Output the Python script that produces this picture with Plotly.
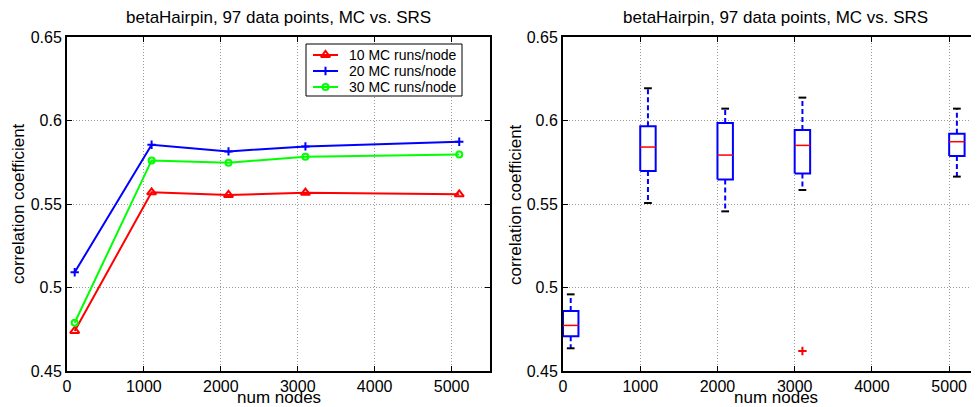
import plotly.graph_objects as go

# ---------------- data ----------------
num_nodes = [100, 1100, 2100, 3100, 5100]
mc10 = [0.4740, 0.5570, 0.5554, 0.5568, 0.5558]
mc20 = [0.5091, 0.5855, 0.5815, 0.5845, 0.5873]
mc30 = [0.4789, 0.5761, 0.5747, 0.5783, 0.5797]
series_names = ["10 MC runs/node", "20 MC runs/node", "30 MC runs/node"]

box_x = [100, 1100, 2100, 3100, 5100]
box_lower_whisker = [0.4636, 0.5506, 0.5456, 0.5584, 0.5664]
box_q1 = [0.4708, 0.5698, 0.5646, 0.5682, 0.5787]
box_median = [0.4773, 0.5841, 0.5793, 0.5851, 0.5873]
box_q3 = [0.4859, 0.5965, 0.5985, 0.5943, 0.5921]
box_upper_whisker = [0.4959, 0.6193, 0.6071, 0.6137, 0.6071]
outlier_x = [3100]
outlier_y = [0.4620]

title_text = "betaHairpin, 97 data points, MC vs. SRS"
xlabel = "num nodes"
ylabel = "correlation coefficient"
y_tickvals = [0.45, 0.5, 0.55, 0.6, 0.65]
y_ticktext = ["0.45", "0.5", "0.55", "0.6", "0.65"]
x_tickvals = [0, 1000, 2000, 3000, 4000, 5000]
x_ticktext = ["0", "1000", "2000", "3000", "4000", "5000"]

# ---------------- style / geometry (viewport pixels) ----------------
W, H = 979, 407
OFF = 8  # page body margin
FONT = "Liberation Sans, Arial, Helvetica, sans-serif"
BOX_HALF = 100
CAP_HALF = 50

def fx(v):
    return (v - OFF) / W

def fy(v):
    return (H - (v - OFF)) / H

series_style = [
    ("#ff0000", "triangle-up-open", 8),
    ("#0000ff", "cross-thin-open", 6),
    ("#00ff00", "circle-open", 6),
]

fig = go.Figure()

# left plot lines
for ys, name, (color, sym, size) in zip([mc10, mc20, mc30], series_names, series_style):
    fig.add_trace(go.Scatter(
        x=num_nodes, y=ys, name=name, mode="lines+markers",
        line=dict(color=color, width=2),
        marker=dict(symbol=sym, size=size, color=color, line=dict(color=color, width=2)),
        xaxis="x", yaxis="y", showlegend=False,
    ))

# right plot boxplots built from the summary arrays
wx, wy, bx, by, cx, cy, mx, my = [], [], [], [], [], [], [], []
for x, lo, q1, med, q3, hi in zip(box_x, box_lower_whisker, box_q1, box_median, box_q3, box_upper_whisker):
    wx += [x, x, None, x, x, None]
    wy += [q3, hi, None, q1, lo, None]
    bx += [x - BOX_HALF, x + BOX_HALF, x + BOX_HALF, x - BOX_HALF, x - BOX_HALF, None]
    by += [q1, q1, q3, q3, q1, None]
    cx += [x - CAP_HALF, x + CAP_HALF, None, x - CAP_HALF, x + CAP_HALF, None]
    cy += [hi, hi, None, lo, lo, None]
    mx += [x - BOX_HALF, x + BOX_HALF, None]
    my += [med, med, None]

fig.add_trace(go.Scatter(x=wx, y=wy, mode="lines", line=dict(color="#0000ff", width=2, dash="5px,3px"),
                         showlegend=False, xaxis="x2", yaxis="y2", hoverinfo="skip"))
fig.add_trace(go.Scatter(x=bx, y=by, mode="lines", line=dict(color="#0000ff", width=2),
                         showlegend=False, xaxis="x2", yaxis="y2", hoverinfo="skip"))
fig.add_trace(go.Scatter(x=cx, y=cy, mode="lines", line=dict(color="#000000", width=2),
                         showlegend=False, xaxis="x2", yaxis="y2", hoverinfo="skip"))
fig.add_trace(go.Scatter(x=mx, y=my, mode="lines", line=dict(color="#ff0000", width=1.5),
                         showlegend=False, xaxis="x2", yaxis="y2", hoverinfo="skip"))
fig.add_trace(go.Scatter(x=outlier_x, y=outlier_y, mode="markers",
                         marker=dict(symbol="cross-thin-open", size=6, color="#ff0000",
                                     line=dict(color="#ff0000", width=2)),
                         showlegend=False, xaxis="x2", yaxis="y2"))

# ---------------- MATLAB-style legend box (overlay subplot in pixel units) ----------------
LEG_L, LEG_R, LEG_T, LEG_B = 306, 462, 44, 96
LEG_ROWS = [55, 71, 87]
LEG_LINE = (313, 338)
LEG_TEXT_X = 347

fig.add_trace(go.Scatter(
    x=[LEG_L, LEG_R, LEG_R, LEG_L, LEG_L], y=[LEG_T, LEG_T, LEG_B, LEG_B, LEG_T],
    mode="lines", fill="toself", fillcolor="white", line=dict(color="black", width=1),
    xaxis="x3", yaxis="y3", showlegend=False, hoverinfo="skip"))
annotations = []
for row_y, name, (color, sym, size) in zip(LEG_ROWS, series_names, series_style):
    fig.add_trace(go.Scatter(
        x=[LEG_LINE[0], LEG_LINE[1]], y=[row_y, row_y], mode="lines",
        line=dict(color=color, width=2), xaxis="x3", yaxis="y3", showlegend=False, hoverinfo="skip"))
    fig.add_trace(go.Scatter(
        x=[(LEG_LINE[0] + LEG_LINE[1]) / 2], y=[row_y], mode="markers",
        marker=dict(symbol=sym, size=size, color=color, line=dict(color=color, width=2)),
        xaxis="x3", yaxis="y3", showlegend=False, hoverinfo="skip"))
    annotations.append(dict(text=name, x=LEG_TEXT_X, y=row_y, xref="x3", yref="y3",
                            showarrow=False, xanchor="left", yanchor="middle",
                            font=dict(family=FONT, size=14, color="black")))

# ---------------- layout ----------------
def axis_common():
    return dict(
        showline=True, linecolor="black", linewidth=2,
        ticks="inside", ticklen=5, tickwidth=1, tickcolor="black",
        showgrid=True, gridcolor="#9a9a9a", griddash="1px,2px", gridwidth=1,
        zeroline=False, automargin=False,
        tickfont=dict(family=FONT, size=16, color="black"),
    )

ydom = [fy(371), fy(37)]
left_dom = [fx(67), fx(490)]
right_dom = [fx(563), 1.0]

xa = axis_common(); xa.update(domain=left_dom, range=[0, 5500], tickvals=x_tickvals, ticktext=x_ticktext,
                             mirror="allticks", anchor="y")
ya = axis_common(); ya.update(domain=ydom, range=[0.45, 0.65], tickvals=y_tickvals, ticktext=y_ticktext,
                             mirror="allticks", anchor="x")
xa2 = axis_common(); xa2.update(domain=right_dom, range=[0, 5490], tickvals=x_tickvals, ticktext=x_ticktext,
                               mirror="allticks", anchor="y2")
ya2 = axis_common(); ya2.update(domain=ydom, range=[0.45, 0.65], tickvals=y_tickvals, ticktext=y_ticktext,
                               mirror=False, anchor="x2")
xa3 = dict(domain=[0, 1], range=[OFF, OFF + W], visible=False, fixedrange=True, anchor="y3")
ya3 = dict(domain=[0, 1], range=[OFF + H, OFF], visible=False, fixedrange=True, anchor="x3")

for cx_px in [278.5, 775.5]:
    annotations.append(dict(text=title_text, x=fx(cx_px), y=fy(17), xref="paper", yref="paper",
                            showarrow=False, xanchor="center", yanchor="middle",
                            font=dict(family=FONT, size=17, color="black")))
    annotations.append(dict(text=xlabel, x=fx(cx_px), y=fy(397.5), xref="paper", yref="paper",
                            showarrow=False, xanchor="center", yanchor="middle",
                            font=dict(family=FONT, size=17, color="black")))
for lx in [18, 515]:
    annotations.append(dict(text=ylabel, x=fx(lx), y=fy(204), xref="paper", yref="paper",
                            showarrow=False, xanchor="center", yanchor="middle", textangle=-90,
                            font=dict(family=FONT, size=17, color="black")))

fig.update_layout(
    template="none",
    width=W, height=H, autosize=False,
    margin=dict(l=0, r=0, t=0, b=0, pad=0, autoexpand=False),
    paper_bgcolor="white", plot_bgcolor="rgba(0,0,0,0)",
    xaxis=xa, yaxis=ya, xaxis2=xa2, yaxis2=ya2, xaxis3=xa3, yaxis3=ya3,
    annotations=annotations,
    showlegend=False,
)

fig.write_html("out.html")
